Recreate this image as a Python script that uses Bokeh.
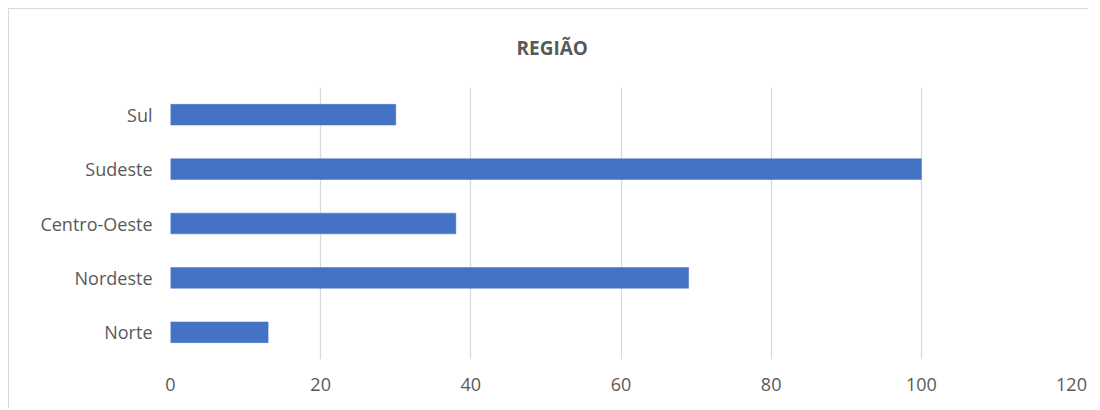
from bokeh.plotting import figure
from bokeh.models import FactorRange
from bokeh.embed import file_html
from bokeh.resources import INLINE

categories = ["Norte", "Nordeste", "Centro-Oeste", "Sudeste", "Sul"]
values = [13, 69, 38, 100, 30]
x_ticks = [0, 20, 40, 60, 80, 100, 120]
title_text = "REGIÃO"

TEXT = "#595959"
GRID = "#D9D9D9"
BAR = "#4472C4"
FONT = "Open Sans"

p = figure(
    y_range=FactorRange(*categories),
    x_range=(0, 120),
    width=1080, height=400,
    output_backend="svg", toolbar_location=None,
    min_border_left=161, min_border_right=18,
    min_border_top=77, min_border_bottom=50,
    title=title_text,
)
p.styles = {"margin-left": "8px", "margin-top": "8px",
            "border-top": f"1px solid {GRID}", "border-left": f"1px solid {GRID}"}

p.hbar(y=categories, right=values, left=0, height=0.38,
       fill_color=BAR, line_color=BAR, line_width=0.5)

p.title.align = "left"
p.title.vertical_align = "top"
p.title.offset = 346
p.title.standoff = 50
p.title.text_font = FONT
p.title.text_font_style = "bold"
p.title.text_font_size = "19px"
p.title.text_color = TEXT

p.outline_line_color = None
p.background_fill_color = "white"
p.border_fill_color = "white"

p.xaxis.ticker = x_ticks
p.xgrid.grid_line_color = GRID
p.xgrid.grid_line_width = 1.3
p.ygrid.grid_line_color = None

for ax in (p.xaxis[0], p.yaxis[0]):
    ax.axis_line_color = None
    ax.major_tick_line_color = None
    ax.minor_tick_line_color = None
    ax.major_tick_out = 0
    ax.major_tick_in = 0
    ax.major_label_text_color = TEXT
    ax.major_label_text_font = FONT
    ax.major_label_text_font_size = "18px"

p.xaxis.major_label_standoff = 18
p.yaxis.major_label_standoff = 18

open("out.html", "w").write(file_html(p, INLINE))
